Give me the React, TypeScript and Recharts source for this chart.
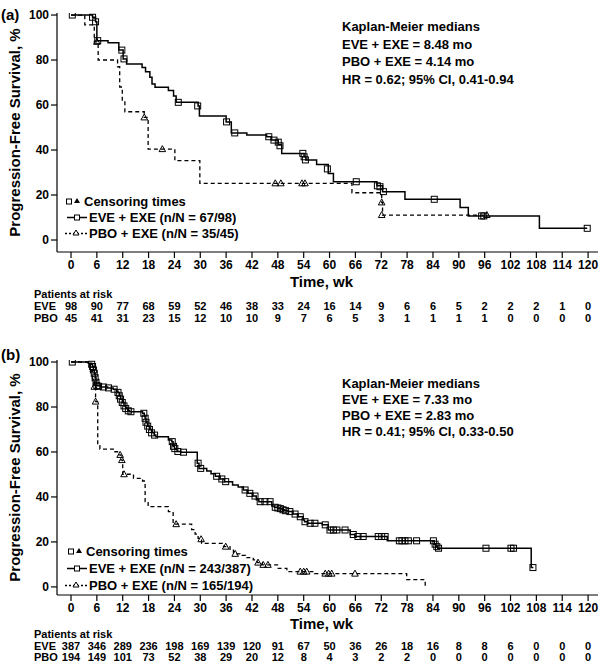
import { ComposedChart, Line, Scatter, XAxis, YAxis } from 'recharts'

type Pt = [number, number]

const weekTicks = [0, 6, 12, 18, 24, 30, 36, 42, 48, 54, 60, 66, 72, 78, 84, 90, 96, 102, 108, 114, 120]
const survTicks = [0, 20, 40, 60, 80, 100]

// panel (a)
const eveStepsA: Pt[] = [
  [0, 100], [5.0, 99], [5.7, 97], [6.0, 88.6], [8.6, 87.7], [11.1, 84.4], [12.1, 80.5], [12.9, 78.2],
  [16.5, 76.7], [17.3, 74.8], [18.3, 72.3], [18.8, 69.3], [19.5, 67.9], [22.6, 66.4], [23.8, 64],
  [24.4, 61.2], [29.5, 59.6], [29.8, 55.1], [36.0, 52.5], [37.2, 47.6], [40.8, 46.7], [45.4, 45.9],
  [46.5, 44.4], [48.1, 42.5], [48.9, 38.5], [54.1, 37], [54.5, 35.6], [57.0, 33.6], [59.7, 29.6],
  [60.9, 25.9], [71.0, 24.1], [72.3, 21.5], [77.5, 18.1], [90.3, 14.5], [92.2, 10.7], [108.7, 5.2],
  [119.8, 5.2],
]
const pboStepsA: Pt[] = [
  [0, 100], [3.2, 95.6], [5.4, 88.1], [6.3, 80], [10.8, 77], [11.3, 68], [11.9, 62.2], [12.5, 57],
  [17.0, 54.5], [17.9, 40.4], [24.1, 35.3], [29.9, 25.2], [65.2, 21], [72.1, 16.7], [72.3, 11.1],
  [96.5, 11.1],
]
const eveCensA: Pt[] = [
  [0.3, 100], [5.0, 99], [5.7, 97], [6.2, 88.6], [11.8, 84.4], [12.3, 80.5], [24.9, 61.2], [29.4, 59.6],
  [36.1, 52.5], [38.0, 47.6], [45.9, 45.9], [47.1, 44.4], [48.1, 43.5], [48.5, 41.9], [53.8, 38.5],
  [54.1, 37], [54.4, 35.6], [59.5, 31.6], [66.2, 25.9], [71.1, 24.1], [71.7, 23.7], [72.5, 21.5],
  [84.3, 18.1], [95.3, 10.7], [95.8, 10.7], [119.8, 5.2],
]
const pboCensA: Pt[] = [
  [6.0, 88.1], [17.0, 54.5], [21.2, 40.4], [47.4, 25.2], [48.7, 25.2], [53.6, 25.2], [54.3, 25.2],
  [72.1, 16.7], [72.1, 11.1], [96.5, 11.1],
]
const eveRiskA = [98, 90, 77, 68, 59, 52, 46, 38, 33, 24, 16, 14, 9, 6, 6, 5, 2, 2, 2, 1, 0]
const pboRiskA = [45, 41, 31, 23, 15, 12, 10, 10, 9, 7, 6, 5, 3, 1, 1, 1, 1, 0, 0, 0, 0]
const kmTextA = ['Kaplan-Meier medians', 'EVE + EXE = 8.48 mo', 'PBO + EXE = 4.14 mo', 'HR = 0.62; 95% CI, 0.41-0.94']
const legendA = ['Censoring times', 'EVE + EXE (n/N = 67/98)', 'PBO + EXE (n/N = 35/45)']

// panel (b)
const eveStepsB: Pt[] = [
  [0, 100], [4.0, 99.5], [4.8, 99], [5.0, 98], [5.2, 96.5], [5.4, 95], [5.6, 93], [5.8, 91], [6.0, 89.5],
  [7.0, 88.9], [8.5, 88.5], [9.8, 87.9], [10.6, 87], [10.9, 86.5], [11.2, 85], [11.5, 83.5], [11.9, 82],
  [12.3, 80.5], [12.7, 79.3], [13.2, 78.3], [13.6, 77.9], [16.6, 77.2], [17.0, 76], [17.2, 75],
  [17.4, 73.2], [17.8, 71.5], [18.2, 70], [18.7, 68.5], [19.3, 67.5], [19.7, 66.8], [22.6, 65.3],
  [23.4, 64.6], [23.7, 62.5], [24.0, 61.5], [24.6, 60.2], [25.5, 59.9], [29.3, 55], [29.7, 52.7],
  [31.5, 51.5], [32.5, 50.3], [33.5, 49.2], [34.6, 48], [35.6, 46.8], [37.5, 45.3], [38.8, 44.4],
  [40.0, 43.1], [41.0, 41.6], [42.2, 40.4], [43.0, 38.8], [43.6, 37.9], [46.6, 36.0], [47.2, 35.4],
  [47.9, 35.1], [48.5, 34.8], [49.0, 34.3], [49.6, 33.9], [50.4, 33.5], [51.5, 32.4], [52.7, 31.2],
  [53.9, 29.8], [54.2, 29], [54.9, 28.3], [58.3, 27.6], [59.7, 25.3], [64.8, 23.3], [65.9, 22.4],
  [73.4, 20.5], [84.3, 19], [84.7, 17.9], [85.1, 17.2], [106.8, 8.6], [107.3, 8.6],
]
const pboStepsB: Pt[] = [
  [0, 100], [4.5, 96], [5.0, 92], [5.4, 89], [5.7, 82.4], [6.2, 62.8], [6.7, 61.3], [10.0, 60.1],
  [10.8, 58.7], [11.6, 56.4], [12.0, 50.1], [14.5, 48.3], [16.6, 47.1], [17.2, 37.9], [17.9, 35.7],
  [22.6, 33.5], [23.7, 27.9], [28.0, 25.5], [28.8, 23.5], [29.5, 21.6], [30.3, 19.4], [35.4, 17.9],
  [36.9, 16.3], [37.7, 14.7], [39.2, 14.0], [40.5, 13], [42.3, 12], [43.2, 10.8], [44.4, 9.8],
  [48.1, 8.2], [50.1, 6.8], [56.5, 5.9], [77.9, 3.2], [82.2, 0], [82.3, 0],
]
const eveCensB: Pt[] = [
  [0.3, 100], [4.8, 99], [5.0, 98], [5.2, 96.5], [5.4, 95], [5.6, 93], [5.8, 91], [6.0, 89.5], [6.4, 89.2],
  [7.5, 88.9], [8.7, 88.5], [10.0, 87.9], [10.9, 86.5], [11.2, 85], [11.5, 83.5], [11.9, 82], [12.3, 80.5],
  [12.7, 79.3], [13.3, 78.3], [13.9, 77.9], [16.9, 77.2], [17.2, 75], [17.4, 73.2], [17.8, 71.5],
  [18.2, 70], [18.7, 68.5], [19.4, 67.5], [23.5, 64.6], [23.8, 62.5], [24.1, 61.5], [24.8, 60.2],
  [26.1, 59.9], [29.5, 55], [30.1, 52.7], [33.8, 49.2], [35.0, 48], [35.9, 46.8], [40.4, 43.1],
  [41.5, 41.6], [42.7, 40.4], [43.9, 37.9], [45.0, 37.9], [46.2, 37.9], [47.4, 35.4], [48.0, 35.1],
  [48.6, 34.8], [49.2, 34.3], [49.8, 33.9], [50.8, 33.5], [52.0, 32.4], [53.2, 31.2], [54.3, 29],
  [55.5, 28.3], [56.6, 28.3], [59.0, 27.6], [60.1, 25.3], [60.9, 25.3], [61.7, 25.3], [63.6, 25.3],
  [65.5, 23.3], [66.6, 22.4], [67.8, 22.4], [71.3, 22.4], [72.1, 22.4], [72.9, 22.4], [76.2, 20.5],
  [76.8, 20.5], [77.5, 20.5], [78.3, 20.5], [80.2, 20.5], [84.1, 20.5], [84.5, 19], [84.9, 17.9],
  [85.3, 17.2], [96.3, 17.2], [102.1, 17.2], [102.7, 17.2], [107.2, 8.6],
]
const pboCensB: Pt[] = [
  [5.4, 89], [5.7, 82.4], [11.4, 58.7], [11.8, 56.4], [12.3, 50.1], [24.4, 27.9], [30.2, 21.2],
  [35.9, 17.9], [38.1, 14.7], [43.4, 10.8], [44.6, 9.8], [45.7, 9.8], [53.2, 6.8], [54.0, 6.8],
  [54.7, 6.8], [59.0, 5.9], [59.8, 5.9], [60.5, 5.9], [65.9, 5.9],
]
const eveRiskB = [387, 346, 289, 236, 198, 169, 139, 120, 91, 67, 50, 36, 26, 18, 16, 8, 8, 6, 0, 0, 0]
const pboRiskB = [194, 149, 101, 73, 52, 38, 29, 20, 12, 8, 4, 3, 2, 2, 0, 0, 0, 0, 0, 0, 0]
const kmTextB = ['Kaplan-Meier medians', 'EVE + EXE = 7.33 mo', 'PBO + EXE = 2.83 mo', 'HR = 0.41; 95% CI, 0.33-0.50']
const legendB = ['Censoring times', 'EVE + EXE (n/N = 243/387)', 'PBO + EXE (n/N = 165/194)']

const FONT = '"Liberation Sans", Arial, Helvetica, sans-serif'
const toRows = (pts: Pt[]) => pts.map(([t, s]) => ({ t, s }))

const Square = (p: any) => (
  <rect x={p.cx - 3} y={p.cy - 3} width={6} height={6} fill="none" stroke="#000" strokeWidth={1} />
)
const Tri = (p: any) => (
  <path d={`M${p.cx},${p.cy - 3.5}L${p.cx + 3.3},${p.cy + 2.5}L${p.cx - 3.3},${p.cy + 2.5}Z`} fill="none" stroke="#000" strokeWidth={1} />
)

const YTitle = (p: any) => {
  const vb = p.viewBox || { y: 0, height: 0 }
  const cx = 15
  const cy = vb.y + vb.height / 2
  return (
    <text x={cx} y={cy} transform={`rotate(-90 ${cx} ${cy})`} textAnchor="middle" dy={5}
      fontSize={15} fontWeight="bold" fill="#000" fontFamily={FONT}>
      Progression-Free Survival, %
    </text>
  )
}

function XTitle(p: any) {
  const vb = p.viewBox || { x: 0, y: 0, width: 0 }
  return (
    <g fontFamily={FONT} fontWeight="bold" fill="#000">
      <text x={vb.x + vb.width / 2 - 6} y={vb.y + p.timeDy} textAnchor="middle" fontSize={15}>Time, wk</text>
      <text x={34} y={vb.y + p.parDy} fontSize={11}>Patients at risk</text>
    </g>
  )
}

// week label plus the two at-risk counts under each tick
const makeTick = (eveRisk: number[], pboRisk: number[], eveDy: number, pboDy: number) => (p: any) => {
  const i = weekTicks.indexOf(p.payload.value)
  return (
    <g fontFamily={FONT} fontWeight="bold" fill="#000">
      <text x={p.x} y={p.y + 9} textAnchor="middle" fontSize={12}>{p.payload.value}</text>
      {i === 0 && <text x={34} y={p.y + eveDy} fontSize={11}>EVE</text>}
      {i === 0 && <text x={34} y={p.y + pboDy} fontSize={11}>PBO</text>}
      <text x={p.x} y={p.y + eveDy} textAnchor="middle" fontSize={11}>{eveRisk[i]}</text>
      <text x={p.x} y={p.y + pboDy} textAnchor="middle" fontSize={11}>{pboRisk[i]}</text>
    </g>
  )
}

function Panel(props: any) {
  const { tag, top, height, margin, yMin, axisH, timeDy, parDy, eveDy, pboDy, eveSteps, pboSteps, eveCens, pboCens,
    eveRisk, pboRisk, km, kmY, kmGap, legend, legY, legGap, legCensX } = props
  return (
    <div style={{ position: 'absolute', left: 0, top, width: 602, height }}>
      <ComposedChart width={602} height={height} margin={margin} style={{ fontFamily: FONT }}>
        <XAxis xAxisId="t" type="number" dataKey="t" domain={[-3.25, 122.3]} ticks={weekTicks} interval={0}
          allowDataOverflow height={axisH} tickSize={6} tickMargin={2} tick={makeTick(eveRisk, pboRisk, eveDy, pboDy)}
          axisLine={{ stroke: '#000', strokeWidth: 1.2 }} tickLine={{ stroke: '#000', strokeWidth: 1.2 }}
          label={<XTitle timeDy={timeDy} parDy={parDy} />} />
        <YAxis type="number" domain={[yMin, 100.9]} ticks={survTicks} allowDataOverflow width={57}
          tickSize={6} tickMargin={2} tick={{ fill: '#000', fontSize: 12, fontWeight: 'bold', fontFamily: FONT }}
          axisLine={{ stroke: '#000', strokeWidth: 1.2 }} tickLine={{ stroke: '#000', strokeWidth: 1.2 }}
          label={<YTitle />} />
        <Line xAxisId="t" data={toRows(pboSteps)} dataKey="s" type="stepAfter" stroke="#000" strokeWidth={1.3}
          strokeDasharray="4 3" dot={false} activeDot={false} isAnimationActive={false} />
        <Line xAxisId="t" data={toRows(eveSteps)} dataKey="s" type="stepAfter" stroke="#000" strokeWidth={1.5}
          dot={false} activeDot={false} isAnimationActive={false} />
        <Scatter xAxisId="t" data={toRows(pboCens)} dataKey="s" shape={Tri} isAnimationActive={false} />
        <Scatter xAxisId="t" data={toRows(eveCens)} dataKey="s" shape={Square} isAnimationActive={false} />
      </ComposedChart>
      <svg width={602} height={height} style={{ position: 'absolute', left: 0, top: 0, pointerEvents: 'none' }}
        fontFamily={FONT} fontWeight="bold" fill="#000">
        <text x={1} y={tag.y} fontSize={15}>{tag.text}</text>
        {km.map((s: string, i: number) => (
          <text key={s} x={342} y={kmY + i * kmGap} fontSize={13}>{s}</text>
        ))}
        <g fontSize={13}>
          <rect x={legCensX - 2.5} y={legY - 7} width={5} height={5} fill="none" stroke="#000" />
          <path d={`M${legCensX + 8},${legY - 8}l3,5h-6z`} fill="#000" />
          <text x={legCensX + 15} y={legY}>{legend[0]}</text>
          <line x1={67} x2={87} y1={legY + legGap - 4.5} y2={legY + legGap - 4.5} stroke="#000" strokeWidth={1.5} />
          <rect x={74.5} y={legY + legGap - 7} width={5} height={5} fill="#fff" stroke="#000" />
          <text x={89} y={legY + legGap}>{legend[1]}</text>
          <line x1={65} x2={87} y1={legY + 2 * legGap - 4.5} y2={legY + 2 * legGap - 4.5} stroke="#000"
            strokeWidth={1.3} strokeDasharray="2 2" />
          <path d={`M76,${legY + 2 * legGap - 8}l3,5h-6z`} fill="#fff" stroke="#000" />
          <text x={89} y={legY + 2 * legGap}>{legend[2]}</text>
        </g>
      </svg>
    </div>
  )
}

export default function App() {
  return (
    <div style={{ position: 'absolute', left: 0, top: 0, width: 602, height: 667, background: '#fff' }}>
      <Panel tag={{ text: '(a)', y: 20 }} top={0} height={336} margin={{ top: 13, right: 4, bottom: 8, left: 0 }}
        yMin={-5.33} axisH={76} timeDy={35} parDy={46} eveDy={50} pboDy={62}
        eveSteps={eveStepsA} pboSteps={pboStepsA} eveCens={eveCensA} pboCens={pboCensA}
        eveRisk={eveRiskA} pboRisk={pboRiskA} km={kmTextA} kmY={31} kmGap={17.6}
        legend={legendA} legY={206} legGap={16} legCensX={69} />
      <Panel tag={{ text: '(b)', y: 24 }} top={336} height={331} margin={{ top: 24, right: 4, bottom: 5, left: 0 }}
        yMin={-3.6} axisH={67} timeDy={34} parDy={43} eveDy={47} pboDy={58}
        eveSteps={eveStepsB} pboSteps={pboStepsB} eveCens={eveCensB} pboCens={pboCensB}
        eveRisk={eveRiskB} pboRisk={pboRiskB} km={kmTextB} kmY={52} kmGap={16}
        legend={legendB} legY={220} legGap={17} legCensX={71} />
    </div>
  )
}
